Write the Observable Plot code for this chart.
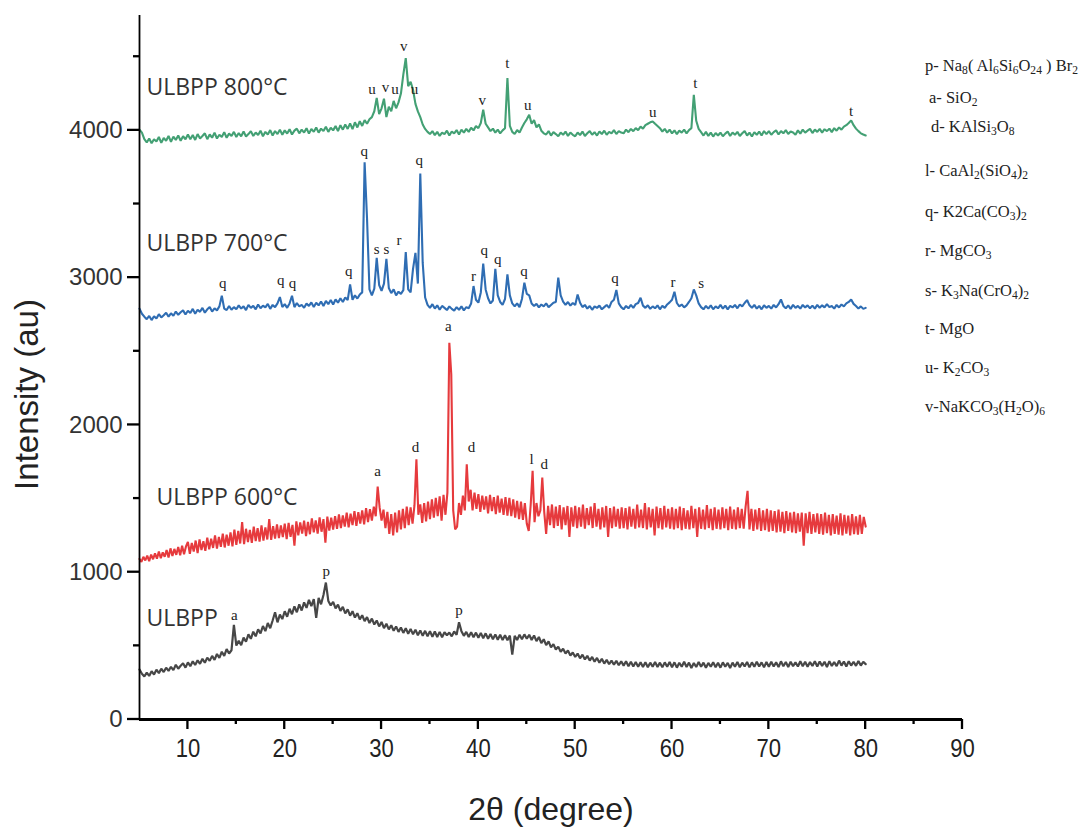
<!DOCTYPE html>
<html><head><meta charset="utf-8">
<script src="https://cdn.jsdelivr.net/npm/d3@7"></script>
<script src="https://cdn.jsdelivr.net/npm/@observablehq/plot@0.6"></script>
<style>
html,body{margin:0;padding:0;background:#fff;}
#wrap{position:relative;width:1088px;height:827px;overflow:hidden;}
#legend{position:absolute;left:0;top:0;font-family:"Liberation Serif","Times New Roman",serif;font-size:16.5px;color:#222;}
#legend div{position:absolute;white-space:nowrap;line-height:1;transform:translateY(-50%);}
#legend sub{font-size:0.7em;vertical-align:-0.32em;line-height:0;}
</style></head>
<body><div id="wrap"><div id="legend"></div></div>
<script>
// ---------- DATA ----------
// scan grids (2θ, degrees)
const grid25 = d3.range(301).map(i => 5 + i * 0.25);   // 5°..80°, 0.25° step
const grid20 = d3.range(376).map(i => 5 + i * 0.2);    // 5°..80°, 0.2° step

const int800 = [
4005,3985,3940,3918,3945,3912,3940,3925,3955,3915,3948,3930,3962,3922,3958,3935,3965,3930,3960,3940,
3972,3940,3968,3935,3975,3945,3962,3980,3940,3972,3950,3985,3945,3970,3955,3988,3950,3978,3962,3990,
3955,3982,3960,3992,3958,3975,3995,3962,3985,3968,3998,3960,3990,3972,4002,3965,3995,3975,4005,3970,
4000,3978,4008,3972,3998,4012,3980,4005,3985,4015,3978,4010,3990,4020,3985,4012,3995,4025,3990,4018,
4000,4030,3995,4035,4005,4040,4010,4048,4008,4055,4020,4062,4030,4070,4045,4075,4090,4130,4220,4110,
4150,4215,4090,4160,4130,4200,4150,4190,4250,4380,4490,4300,4330,4276,4180,4129,4090,4040,4010,3990,
3975,3995,3968,3990,3962,3985,3975,3998,3965,3992,3980,4002,3972,4005,3985,4010,3990,4018,4000,4030,
4015,4050,4141,4045,4020,3995,4012,3985,4005,3980,4000,4015,4355,4030,3990,3975,4002,3985,4020,4050,
4075,4106,4045,4070,4020,4040,3998,3980,3972,3995,3965,3988,3975,3960,3985,3970,3992,3962,3985,3970,
3960,3985,3968,3992,3962,3980,3995,3970,3988,3965,3992,3975,3998,3970,3990,3980,4002,3975,3995,3985,
3980,4005,3988,4010,3995,4015,4002,4025,4012,4035,4045,4055,4061,4045,4030,4015,3992,4010,3985,4005,
3980,4000,3975,3998,3985,4005,3980,4002,4015,4242,4065,4010,3988,3965,3990,3962,3985,3958,3982,3965,
3985,3960,3978,3992,3962,3985,3970,3990,3962,3980,3995,3965,3985,3958,3988,3970,3992,3965,3995,3975,
3995,3970,3988,4000,3972,3995,3980,4002,3975,3992,3985,3970,4000,3978,4005,3985,3998,4010,3982,4005,
3990,4010,3985,4008,3995,4012,3988,4015,3998,4020,4005,4025,4035,4050,4068,4035,4012,3995,3980,3972,3965];

const int700 = [
2790,2755,2735,2718,2740,2712,2738,2722,2752,2730,2745,2762,2735,2758,2742,2770,2748,2765,2778,2750,
2775,2760,2788,2755,2782,2768,2795,2762,2785,2800,2770,2792,2778,2805,2877,2790,2780,2808,2782,2800,
2785,2812,2790,2805,2780,2815,2795,2808,2785,2818,2792,2810,2798,2822,2788,2815,2800,2825,2868,2800,
2820,2795,2825,2877,2800,2828,2805,2815,2795,2825,2808,2832,2800,2830,2812,2838,2808,2842,2820,2848,
2818,2852,2830,2860,2835,2866,2848,2954,2850,2880,2858,2885,2900,3783,3400,2920,2880,2925,3134,2950,
2910,2960,3127,2930,2895,2920,2880,2905,2890,2915,3173,2920,2900,3060,3168,2960,3707,3100,2865,2815,
2795,2820,2790,2812,2782,2808,2795,2780,2805,2788,2776,2800,2782,2805,2778,2800,2792,2825,2943,2850,
2830,2900,3096,2920,2860,2825,2845,3060,2880,2835,2815,2855,3022,2880,2825,2805,2825,2800,2855,2966,
2890,2880,2825,2808,2822,2798,2818,2805,2825,2800,2815,2830,2835,3000,2880,2838,2815,2835,2810,2828,
2815,2886,2830,2800,2815,2790,2808,2782,2805,2795,2810,2785,2800,2815,2795,2835,2850,2916,2825,2800,
2785,2808,2792,2815,2795,2820,2828,2864,2810,2795,2812,2788,2805,2792,2812,2785,2808,2795,2818,2832,
2850,2904,2828,2805,2818,2798,2812,2835,2860,2920,2880,2825,2800,2785,2808,2790,2812,2785,2805,2792,
2815,2790,2810,2785,2808,2798,2815,2792,2818,2805,2828,2848,2812,2795,2815,2790,2808,2785,2812,2795,
2808,2790,2815,2798,2820,2852,2808,2792,2812,2788,2815,2795,2808,2790,2815,2798,2812,2792,2810,2790,
2815,2795,2812,2798,2820,2800,2808,2790,2815,2798,2818,2805,2825,2835,2852,2822,2808,2790,2805,2788,2795];

// 600 °C pattern on the 0.2° grid
const int600 = [
1090,1070,1105,1080,1112,1075,1120,1088,1128,1092,1140,1095,1135,1105,1150,1100,1162,1110,1158,1118,1172,1115,1180,1122,1175,
1205,1125,1198,1140,1215,1130,1222,1150,1210,1145,1235,1155,1228,1165,1250,1160,1240,1172,1262,1168,1255,1180,1270,1175,1290,
1185,1280,1195,1340,1190,1295,1205,1288,1200,1310,1212,1300,1208,1318,1215,1305,1222,1360,1220,1312,1228,1325,1232,1318,1238,
1330,1225,1335,1240,1322,1180,1345,1250,1338,1262,1350,1245,1342,1258,1365,1270,1352,1262,1372,1275,1360,1200,1378,1282,1370,
1290,1380,1295,1392,1300,1385,1310,1405,1305,1398,1320,1415,1315,1408,1330,1420,1325,1435,1340,1428,1350,1445,1380,1582,1440,
1350,1425,1300,1410,1260,1395,1250,1405,1270,1420,1290,1430,1300,1445,1320,1440,1330,1455,1767,1390,1460,1335,1470,1345,1480,
1360,1495,1370,1505,1380,1515,1350,1525,1390,1540,2558,2343,1420,1290,1310,1470,1390,1520,1420,1733,1480,1560,1420,1540,1430,
1530,1410,1520,1425,1515,1400,1525,1415,1510,1395,1520,1405,1500,1390,1510,1385,1505,1380,1495,1370,1485,1360,1480,1355,1470,
1330,1280,1455,1688,1340,1470,1380,1420,1643,1410,1260,1450,1320,1460,1300,1445,1315,1455,1290,1440,1320,1450,1240,1440,1310,
1450,1300,1440,1310,1460,1295,1435,1320,1445,1300,1470,1310,1430,1290,1440,1305,1450,1240,1435,1300,1445,1310,1430,1295,1440,
1300,1435,1290,1445,1310,1430,1295,1460,1305,1425,1300,1470,1290,1440,1305,1430,1250,1445,1300,1435,1290,1450,1305,1430,1295,
1440,1290,1430,1300,1445,1285,1435,1295,1420,1290,1450,1300,1430,1240,1440,1295,1425,1290,1455,1300,1430,1285,1440,1295,1425,
1290,1440,1300,1430,1285,1445,1295,1425,1290,1440,1300,1430,1295,1445,1553,1290,1430,1280,1425,1290,1435,1280,1420,1285,1430,
1275,1420,1280,1415,1270,1425,1275,1410,1265,1415,1280,1405,1270,1410,1265,1400,1275,1405,1180,1400,1265,1410,1260,1395,1270,
1400,1260,1395,1255,1405,1265,1390,1250,1395,1260,1385,1255,1400,1250,1390,1262,1385,1250,1395,1258,1380,1255,1390,1260,1375,
1310];

const intRaw = [
340,310,292,318,296,328,305,338,315,345,322,352,330,358,335,372,345,365,382,352,
388,362,395,370,402,378,412,385,420,398,432,405,445,418,460,432,478,448,470,642,
502,535,505,556,528,578,548,596,565,612,585,635,600,655,620,672,728,660,712,682,
735,698,752,715,768,728,782,740,795,758,812,770,818,690,825,782,845,930,805,775,
798,755,780,738,765,720,748,705,735,692,722,680,708,668,695,655,685,645,672,632,
662,620,650,612,640,602,632,595,625,588,620,582,615,578,610,572,605,568,602,565,
600,562,598,560,595,558,592,572,590,565,598,575,660,600,568,595,560,592,558,590,
555,588,552,585,548,580,545,578,542,575,540,572,538,570,440,568,540,575,545,578,
548,575,540,570,532,560,518,545,505,530,490,512,475,495,460,480,448,468,435,455,
425,448,415,440,408,432,400,425,392,418,386,412,380,405,375,400,372,398,368,395,
366,395,362,392,360,390,358,388,356,388,355,386,358,390,356,386,354,388,358,390,
355,388,352,385,358,392,356,386,350,384,356,390,358,386,352,384,358,388,355,386,
352,388,358,384,350,386,358,390,355,386,360,390,354,388,358,392,360,388,354,390,
358,392,360,388,356,395,362,390,356,392,362,388,360,396,362,392,358,390,364,396,
360,394,364,392,356,396,364,390,362,400,366,394,360,396,366,392,364,398,366,392,376];

const seriesNames = ["ULBPP 800°C", "ULBPP 700°C", "ULBPP 600°C", "ULBPP"];
const seriesLabelTheta = [5.72, 5.72, 6.76, 5.72];
const seriesLabelInt = [4290, 3232, 1508, 688];

// peak annotations: phase letter, 2θ, intensity
const peakLetters = ["u","v","u","v","u","v","t","u","u","t","t",
  "q","q","q","q","q","s","s","r","q","r","q","q","q","q","r","s",
  "a","d","a","d","l","d",
  "a","p","p"];
const peakTheta = [29.0,30.4,31.4,32.3,33.4,40.4,43.0,45.1,58.0,62.4,78.5,
  13.6,19.6,20.8,26.6,28.2,29.5,30.5,31.8,33.9,39.5,40.6,42.0,44.7,54.1,60.1,63.0,
  29.6,33.5,36.9,39.3,45.5,46.8,
  14.8,24.3,38.0];
const peakInt = [4280,4292,4280,4570,4280,4208,4457,4174,4122,4321,4129,
  2965,2983,2965,3044,3858,3191,3196,3254,3797,3010,3189,3123,3044,2999,2972,2965,
  1688,1851,2671,1851,1767,1733,
  710,1010,740];

const legendCodes = ["p-","a-","d-","l-","q-","r-","s-","t-","u-","v-"];
const legendFormulas = [
  " Na<sub>8</sub>( Al<sub>6</sub>Si<sub>6</sub>O<sub>24</sub> ) Br<sub>2</sub>",
  " SiO<sub>2</sub>",
  " KAlSi<sub>3</sub>O<sub>8</sub>",
  " CaAl<sub>2</sub>(SiO<sub>4</sub>)<sub>2</sub>",
  " K2Ca(CO<sub>3</sub>)<sub>2</sub>",
  " MgCO<sub>3</sub>",
  " K<sub>3</sub>Na(CrO<sub>4</sub>)<sub>2</sub>",
  " MgO",
  " K<sub>2</sub>CO<sub>3</sub>",
  "NaKCO<sub>3</sub>(H<sub>2</sub>O)<sub>6</sub>"
];

const xMajorTicks = [10,20,30,40,50,60,70,80,90];
const xMinorTicks = [15,25,35,45,55,65,75,85];
const yMajorTicks = [0,1000,2000,3000,4000];
const yMinorTicks = [500,1500,2500,3500,4500];

// ---------- LAYOUT ----------
const W = 1088, H = 827, mL = 139, mR = 126, mT = 15, mB = 108;
const xDomain = [5, 90], yDomain = [0, 4780];
const xMin = xDomain[0];

const colors = ["#43a074", "#2f6db3", "#e63a3d", "#474747"];
const widths = [2.1, 2.1, 2.1, 2.2];
const allSeries = [int800, int700, int600, intRaw];
const grids = [grid25, grid25, grid20, grid25];
const lineData = allSeries.map((arr, s) => arr.map((v, i) => ({x: grids[s][i], y: v})));
const peaks = peakLetters.map((t, i) => ({t, x: peakTheta[i], y: peakInt[i]}));
const names = seriesNames.map((t, i) => ({t, x: seriesLabelTheta[i], y: seriesLabelInt[i]}));

const sans = "'Liberation Sans',Arial,sans-serif";
const chart = Plot.plot({
  width: W, height: H,
  marginLeft: mL, marginRight: mR, marginTop: mT, marginBottom: mB,
  style: {fontFamily: sans, background: "#fff", color: "#222", overflow: "visible"},
  x: {domain: xDomain},
  y: {domain: yDomain},
  marks: [
    Plot.axisY({ticks: yMajorTicks, tickSize: 0, tickPadding: 17, tickFormat: d => String(d), fontSize: 24, label: null, fill: "#333"}),
    Plot.axisX({ticks: xMajorTicks, tickSize: 0, tickPadding: 19, tickFormat: d => String(d), fontSize: 26, label: null, fill: "#222"}),
    ...lineData.map((d, s) => Plot.line(d, {x: "x", y: "y", stroke: colors[s], strokeWidth: widths[s], strokeLinejoin: "miter"})),
    Plot.ruleX([xMin], {stroke: "#000", strokeWidth: 1.8}),
    Plot.ruleY([0], {stroke: "#000", strokeWidth: 3}),
    Plot.text(peaks, {x: "x", y: "y", text: "t", fontFamily: "'Liberation Serif','Times New Roman',serif", fontSize: 15, fill: "#222"}),
    Plot.text(names, {x: "x", y: "y", text: "t", textAnchor: "start", fontFamily: "'Open Sans',sans-serif", fontSize: 23, fill: "#333"}),
    Plot.text(["2θ (degree)"], {frameAnchor: "bottom", lineAnchor: "middle", textAnchor: "middle", dy: 90, fontSize: 32, fill: "#222"}),
    Plot.text(["Intensity (au)"], {frameAnchor: "left", lineAnchor: "middle", textAnchor: "middle", dx: -112, dy: 27, rotate: -90, fontSize: 33, fill: "#222"})
  ]
});

// tick marks placed with the chart's own x / y scales
const sx = chart.scale("x"), sy = chart.scale("y");
const tg = d3.select(chart).append("g").attr("stroke", "#000").attr("stroke-width", 2.3);
const x0 = sx.apply(xMin), y0 = sy.apply(0);
[[yMajorTicks, 12], [yMinorTicks, 6]].forEach(([ticks, len]) => ticks.forEach(v => {
  const y = sy.apply(v);
  tg.append("line").attr("x1", x0 - len).attr("x2", x0).attr("y1", y).attr("y2", y);
}));
[[xMajorTicks, 10], [xMinorTicks, 5]].forEach(([ticks, len]) => ticks.forEach(v => {
  const x = sx.apply(v);
  tg.append("line").attr("x1", x).attr("x2", x).attr("y1", y0).attr("y2", y0 + len);
}));

// narrow the x tick numerals (condensed look of the original)
d3.select(chart).selectAll('g[aria-label="x-axis tick label"] text').each(function() {
  const x = +this.getAttribute("x") || 0, y = +this.getAttribute("y") || 0;
  const t = this.getAttribute("transform") || "";
  this.setAttribute("transform", `${t} translate(${x},${y}) scale(0.85,1) translate(${-x},${-y})`);
});

const wrap = document.getElementById("wrap");
wrap.insertBefore(chart, wrap.firstChild);

const legendTop = [66, 98, 127, 171, 212, 251, 291, 329, 368, 407];
const legendLeft = [925, 929, 931, 925, 925, 925, 925, 925, 925, 925];
const legend = document.getElementById("legend");
legendCodes.forEach((c, i) => {
  const d = document.createElement("div");
  d.style.left = legendLeft[i] + "px";
  d.style.top = legendTop[i] + "px";
  d.innerHTML = c + legendFormulas[i];
  legend.appendChild(d);
});
</script>
</body></html>
